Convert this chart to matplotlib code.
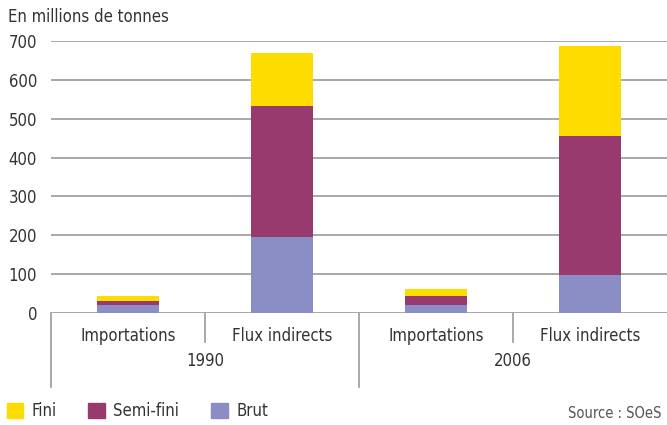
import matplotlib.pyplot as plt
from matplotlib.patches import Patch
import matplotlib.transforms as mtransforms

plt.rcParams['font.family'] = ['DejaVu Sans']
plt.rcParams['font.stretch'] = 'condensed'

# data (millions de tonnes)
categories = ["Importations", "Flux indirects", "Importations", "Flux indirects"]
years = ["1990", "2006"]
brut = [20, 195, 20, 98]
semi_fini = [12, 338, 23, 357]
fini = [11, 137, 20, 233]

colors = {"Fini": "#FFDC00", "Semi-fini": "#983A6E", "Brut": "#8A8EC4"}
text_color = "#333333"
grid_color = "#9a9a9a"
fs = 12

fig = plt.figure(figsize=(6.67, 4.25), dpi=100)
ax = fig.add_axes([51 / 667, (425 - 313) / 425, 616 / 667, 272 / 425])

x = range(len(categories))
bottom2 = [b + s for b, s in zip(brut, semi_fini)]
ax.bar(x, brut, width=0.4, color=colors["Brut"], zorder=3)
ax.bar(x, semi_fini, width=0.4, bottom=brut, color=colors["Semi-fini"], zorder=3)
ax.bar(x, fini, width=0.4, bottom=bottom2, color=colors["Fini"], zorder=3)

ax.set_xlim(-0.5, 3.5)
ax.set_ylim(0, 700)
ax.set_yticks(range(0, 701, 100))
ax.set_xticks([])
ax.tick_params(axis='y', length=0, pad=10, labelsize=fs, labelcolor=text_color)
for sp in ax.spines.values():
    sp.set_visible(False)
ax.yaxis.grid(True, color=grid_color, linewidth=1.2, zorder=0)
ax.set_axisbelow(True)

# category / year labels and separators below the axis
trans = mtransforms.blended_transform_factory(ax.transData, ax.transAxes)
px = 1 / 272  # one pixel in axes units (height)
for i, cat in enumerate(categories):
    ax.text(i, -23 * px, cat, transform=trans, ha='center', va='center',
            fontsize=fs, color=text_color)
for j, yr in enumerate(years):
    ax.text(2 * j + 0.5, -48 * px, yr, transform=trans, ha='center', va='center',
            fontsize=fs, color=text_color)
for sep in [-0.5, 1.5]:
    ax.plot([sep, sep], [0, -74 * px], transform=trans, color=grid_color,
            linewidth=1.2, clip_on=False)
for sep in [0.5, 2.5]:
    ax.plot([sep, sep], [0, -29 * px], transform=trans, color=grid_color,
            linewidth=1.2, clip_on=False)

fig.text(8 / 667, 1 - 17 / 425, "En millions de tonnes", ha='left', va='center',
         fontsize=fs, color=text_color)

handles = [Patch(color=colors[k]) for k in ["Fini", "Semi-fini", "Brut"]]
fig.legend(handles, ["Fini", "Semi-fini", "Brut"], ncol=3, frameon=False,
           loc='center left', bbox_to_anchor=(0.005, 1 - 411 / 425),
           fontsize=fs, handlelength=1.0, handleheight=1.0,
           handletextpad=0.5, columnspacing=1.9, borderaxespad=0,
           borderpad=0.2, labelcolor=text_color)

fig.text(662 / 667, 1 - 413 / 425, "Source : SOeS", ha='right', va='center',
         fontsize=10.5, color="#555555")

fig.savefig("out.png", dpi=100)
